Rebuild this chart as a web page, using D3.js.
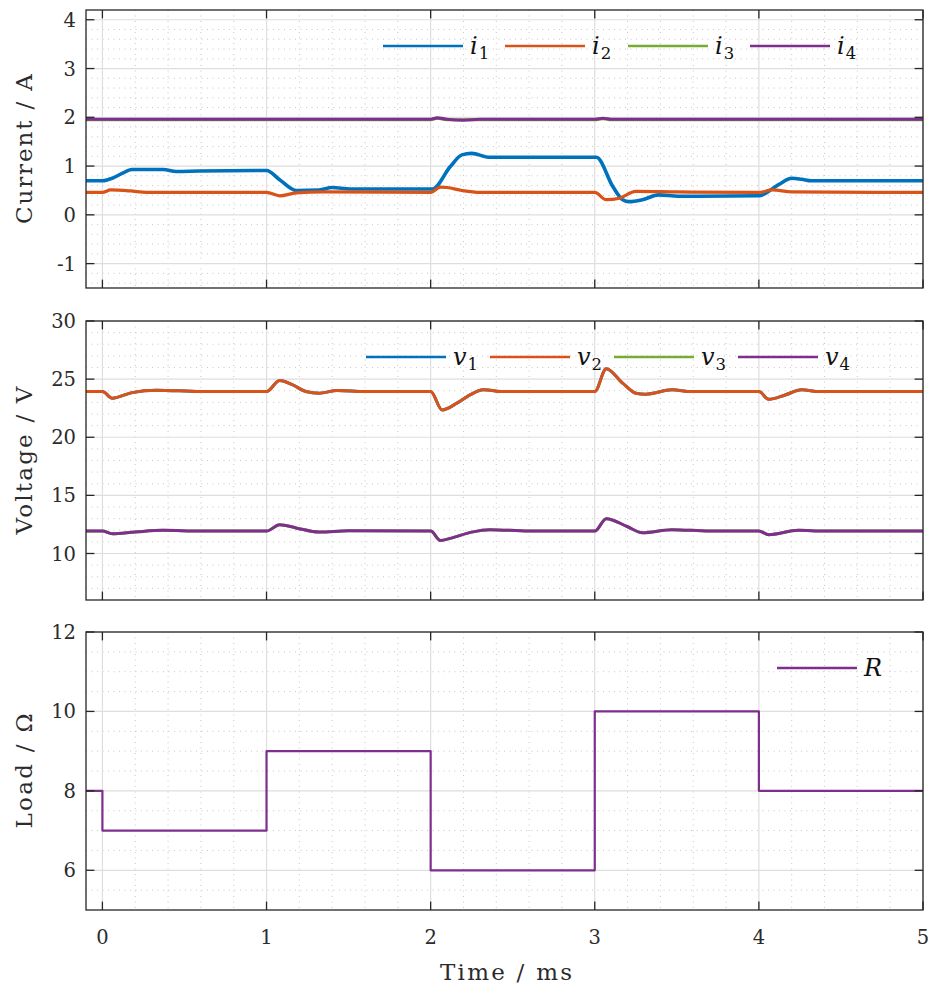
<!DOCTYPE html>
<html>
<head>
<meta charset="utf-8">
<script src="https://cdn.jsdelivr.net/npm/d3@7"></script>
<style>
  html, body { margin: 0; padding: 0; background: #fff; }
</style>
</head>
<body>
<svg id="chart" width="931" height="987"></svg>
<script>
// ---- axis ticks ----
const timeTicks = [0, 1, 2, 3, 4, 5];
const currentTicks = [-1, 0, 1, 2, 3, 4];
const voltageTicks = [10, 15, 20, 25, 30];
const loadTicks = [6, 8, 10, 12];

// ---- currents (A) ----
const i1Time = [-0.1, 0.00, 0.06, 0.12, 0.18, 0.37, 0.45, 0.59, 1.00, 1.08, 1.18, 1.32, 1.40, 1.51, 2.01, 2.12, 2.19, 2.25, 2.36, 3.01, 3.11, 3.17, 3.21, 3.29, 3.39, 3.51, 4.00, 4.12, 4.20, 4.26, 4.32, 5.00];
const i1Val  = [0.70, 0.70, 0.75, 0.85, 0.93, 0.93, 0.89, 0.90, 0.91, 0.72, 0.50, 0.51, 0.56, 0.53, 0.53, 0.99, 1.23, 1.26, 1.18, 1.18, 0.58, 0.31, 0.27, 0.31, 0.41, 0.38, 0.39, 0.62, 0.75, 0.73, 0.70, 0.70];

const i2Time = [-0.1, 0.00, 0.05, 0.17, 0.27, 1.00, 1.08, 1.18, 1.35, 2.00, 2.06, 2.10, 2.19, 2.30, 3.00, 3.07, 3.15, 3.25, 3.50, 4.00, 4.08, 4.20, 5.00];
const i2Val  = [0.46, 0.46, 0.51, 0.49, 0.46, 0.46, 0.39, 0.45, 0.47, 0.46, 0.57, 0.56, 0.50, 0.46, 0.46, 0.31, 0.34, 0.48, 0.47, 0.46, 0.51, 0.47, 0.46];

const i3Time = [-0.1, 2.00, 2.04, 2.10, 3.00, 3.05, 3.10, 5.00];
const i3Val  = [1.95, 1.95, 1.98, 1.95, 1.95, 1.97, 1.95, 1.95];

const i4Time = [-0.1, 2.00, 2.04, 2.10, 2.20, 2.30, 3.00, 3.05, 3.10, 5.00];
const i4Val  = [1.96, 1.96, 1.99, 1.96, 1.94, 1.96, 1.96, 1.98, 1.96, 1.96];

// ---- voltages (V) ----
const v1Time = [-0.1, 0.00, 0.06, 0.18, 0.33, 0.60, 1.00, 1.08, 1.16, 1.24, 1.32, 1.43, 1.60, 2.00, 2.07, 2.16, 2.24, 2.32, 2.45, 3.00, 3.07, 3.17, 3.25, 3.31, 3.47, 3.59, 4.00, 4.06, 4.16, 4.26, 4.37, 5.00];
const v1Val  = [23.93, 23.93, 23.36, 23.84, 24.05, 23.93, 23.93, 24.88, 24.50, 23.93, 23.79, 24.02, 23.93, 23.93, 22.35, 22.93, 23.64, 24.08, 23.93, 23.93, 25.90, 24.65, 23.79, 23.70, 24.08, 23.93, 23.93, 23.27, 23.64, 24.08, 23.93, 23.93];

const v2Time = [-0.1, 0.00, 0.06, 0.18, 0.33, 0.60, 1.00, 1.08, 1.16, 1.24, 1.32, 1.43, 1.60, 2.00, 2.07, 2.16, 2.24, 2.32, 2.45, 3.00, 3.07, 3.17, 3.25, 3.31, 3.47, 3.59, 4.00, 4.06, 4.16, 4.26, 4.37, 5.00];
const v2Val  = [23.93, 23.93, 23.36, 23.84, 24.05, 23.93, 23.93, 24.88, 24.50, 23.93, 23.79, 24.02, 23.93, 23.93, 22.35, 22.93, 23.64, 24.08, 23.93, 23.93, 25.90, 24.65, 23.79, 23.70, 24.08, 23.93, 23.93, 23.27, 23.64, 24.08, 23.93, 23.93];

const v3Time = [-0.1, 0.00, 0.06, 0.20, 0.37, 0.60, 1.00, 1.08, 1.18, 1.32, 1.50, 2.00, 2.06, 2.12, 2.25, 2.36, 2.60, 3.00, 3.07, 3.20, 3.29, 3.47, 3.70, 4.00, 4.06, 4.24, 4.40, 5.00];
const v3Val  = [11.93, 11.93, 11.70, 11.85, 11.99, 11.93, 11.93, 12.48, 12.20, 11.84, 11.95, 11.93, 11.12, 11.30, 11.84, 12.05, 11.93, 11.93, 13.00, 12.30, 11.79, 12.05, 11.93, 11.93, 11.62, 11.99, 11.93, 11.93];

const v4Time = [-0.1, 0.00, 0.06, 0.20, 0.37, 0.60, 1.00, 1.08, 1.18, 1.32, 1.50, 2.00, 2.06, 2.12, 2.25, 2.36, 2.60, 3.00, 3.07, 3.20, 3.29, 3.47, 3.70, 4.00, 4.06, 4.24, 4.40, 5.00];
const v4Val  = [11.93, 11.93, 11.70, 11.85, 11.99, 11.93, 11.93, 12.48, 12.20, 11.84, 11.95, 11.93, 11.12, 11.30, 11.84, 12.05, 11.93, 11.93, 13.00, 12.30, 11.79, 12.05, 11.93, 11.93, 11.62, 11.99, 11.93, 11.93];

// ---- load resistance (Ohm), step changes ----
const loadTime = [-0.1, 0, 1, 2, 3, 4, 5];
const loadVal  = [8, 7, 9, 6, 10, 8, 8];

// ---- styling ----
const serif = "DejaVu Serif";
const colBlue = "#0072BD", colOrange = "#D95319", colGreen = "#77AC30", colPurple = "#7E2F8E";
const axisCol = "#262626";
const textCol = "#2b2b2b";
const W = 931, H = 987;
const left = 86, right = 923;

const svg = d3.select("#chart");
svg.append("rect").attr("width", W).attr("height", H).attr("fill", "#fff");

const x = d3.scaleLinear().domain([-0.1, 5]).range([left, right]);
const xMinor = d3.range(0, 5.0001, 0.2).map(v => +v.toFixed(2)).filter(v => Math.abs(v - Math.round(v)) > 1e-6);

function zip(ts, vs) { return ts.map((t, k) => [t, vs[k]]); }

function panel(cfg) {
  const y = d3.scaleLinear().domain(cfg.yDomain).range([cfg.bottom, cfg.top]);
  const g = svg.append("g");
  const clipId = "clip" + cfg.id;
  svg.append("clipPath").attr("id", clipId)
    .append("rect").attr("x", left).attr("y", cfg.top).attr("width", right - left).attr("height", cfg.bottom - cfg.top);

  // minor grid (dotted)
  const grid = g.append("g");
  grid.selectAll(".mx").data(xMinor).join("line")
    .attr("x1", d => x(d)).attr("x2", d => x(d)).attr("y1", cfg.top).attr("y2", cfg.bottom)
    .attr("stroke", "#c2c2c2").attr("stroke-width", 0.9).attr("stroke-dasharray", "1,4.5");
  grid.selectAll(".my").data(cfg.yMinor).join("line")
    .attr("y1", d => y(d)).attr("y2", d => y(d)).attr("x1", left).attr("x2", right)
    .attr("stroke", "#c2c2c2").attr("stroke-width", 0.9).attr("stroke-dasharray", "1,4.5");
  // major grid
  grid.selectAll(".gx").data(timeTicks).join("line")
    .attr("x1", d => x(d)).attr("x2", d => x(d)).attr("y1", cfg.top).attr("y2", cfg.bottom)
    .attr("stroke", "#dedede").attr("stroke-width", 1.2);
  grid.selectAll(".gy").data(cfg.yTicks).join("line")
    .attr("y1", d => y(d)).attr("y2", d => y(d)).attr("x1", left).attr("x2", right)
    .attr("stroke", "#dedede").attr("stroke-width", 1.2);

  // data
  const traces = g.append("g").attr("clip-path", `url(#${clipId})`);
  cfg.series.forEach(s => {
    const line = d3.line().x(d => x(d[0])).y(d => y(d[1]))
      .curve(s.step ? d3.curveStepAfter : d3.curveMonotoneX);
    traces.append("path").datum(zip(s.t, s.v))
      .attr("d", line).attr("fill", "none").attr("stroke", s.color)
      .attr("stroke-width", s.width).attr("stroke-linejoin", "round");
  });

  // frame and inward ticks on all sides
  const ax = g.append("g").attr("stroke", axisCol).attr("stroke-width", 1.3);
  ax.append("rect").attr("x", left).attr("y", cfg.top).attr("width", right - left).attr("height", cfg.bottom - cfg.top)
    .attr("fill", "none");
  const tl = 8.4;
  timeTicks.forEach(t => {
    ax.append("line").attr("x1", x(t)).attr("x2", x(t)).attr("y1", cfg.bottom).attr("y2", cfg.bottom - tl);
    ax.append("line").attr("x1", x(t)).attr("x2", x(t)).attr("y1", cfg.top).attr("y2", cfg.top + tl);
  });
  cfg.yTicks.forEach(v => {
    ax.append("line").attr("y1", y(v)).attr("y2", y(v)).attr("x1", left).attr("x2", left + tl);
    ax.append("line").attr("y1", y(v)).attr("y2", y(v)).attr("x1", right).attr("x2", right - tl);
  });

  // y tick labels
  g.append("g").selectAll("text").data(cfg.yTicks).join("text")
    .attr("x", 76).attr("y", d => y(d) + 7).attr("text-anchor", "end")
    .style("font-family", serif).attr("font-size", 19.5).attr("fill", textCol)
    .text(d => d < 0 ? "-" + Math.abs(d) : String(d));

  // y label
  g.append("text")
    .attr("transform", `translate(32,${(cfg.top + cfg.bottom) / 2}) rotate(-90)`)
    .attr("text-anchor", "middle").style("font-family", serif).attr("font-size", 23).attr("fill", textCol)
    .attr("textLength", cfg.labelLen).attr("lengthAdjust", "spacing")
    .text(cfg.label);

  // legend
  const lg = g.append("g");
  cfg.legend.forEach(item => {
    lg.append("line").attr("x1", item.x0).attr("x2", item.x0 + 80)
      .attr("y1", cfg.legendY).attr("y2", cfg.legendY)
      .attr("stroke", item.color).attr("stroke-width", 2.6);
    const tx = lg.append("text").attr("x", item.x0 + 87).attr("y", cfg.legendY + 8)
      .style("font-family", serif).attr("font-size", 24).attr("fill", "#111");
    tx.append("tspan").attr("font-style", "italic").text(item.sym);
    if (item.sub) {
      tx.append("tspan").attr("font-size", 16.5).attr("dy", 5).attr("dx", 1).text(item.sub);
    }
  });
  return y;
}

// Current panel
panel({
  id: 1, top: 10, bottom: 288, yDomain: [-1.5, 4.2], yTicks: currentTicks,
  yMinor: d3.range(-1.4, 4.1, 0.2).map(v => +v.toFixed(2)).filter(v => Math.abs(v - Math.round(v)) > 1e-6),
  label: "Current / A", labelLen: 150,
  legendY: 46,
  legend: [
    { x0: 383, color: colBlue, sym: "i", sub: "1" },
    { x0: 505, color: colOrange, sym: "i", sub: "2" },
    { x0: 628, color: colGreen, sym: "i", sub: "3" },
    { x0: 750, color: colPurple, sym: "i", sub: "4" }
  ],
  series: [
    { t: i1Time, v: i1Val, color: colBlue, width: 3.6 },
    { t: i2Time, v: i2Val, color: colOrange, width: 3.2 },
    { t: i3Time, v: i3Val, color: colGreen, width: 3.2 },
    { t: i4Time, v: i4Val, color: colPurple, width: 3.2 }
  ]
});

// Voltage panel
panel({
  id: 2, top: 321, bottom: 600, yDomain: [6, 30], yTicks: voltageTicks,
  yMinor: d3.range(7, 30, 1).filter(v => v % 5 !== 0),
  label: "Voltage / V", labelLen: 148,
  legendY: 357,
  legend: [
    { x0: 366, color: colBlue, sym: "v", sub: "1" },
    { x0: 490, color: colOrange, sym: "v", sub: "2" },
    { x0: 614, color: colGreen, sym: "v", sub: "3" },
    { x0: 738, color: colPurple, sym: "v", sub: "4" }
  ],
  series: [
    { t: v1Time, v: v1Val, color: colBlue, width: 3 },
    { t: v2Time, v: v2Val, color: colOrange, width: 3 },
    { t: v3Time, v: v3Val, color: colGreen, width: 3 },
    { t: v4Time, v: v4Val, color: colPurple, width: 3 }
  ]
});

// Load panel
panel({
  id: 3, top: 632, bottom: 910, yDomain: [5, 12], yTicks: loadTicks,
  yMinor: d3.range(5.5, 12, 0.5).filter(v => !loadTicks.includes(v)),
  label: "Load / \u03A9", labelLen: 115,
  legendY: 668,
  legend: [
    { x0: 777, color: colPurple, sym: "R" }
  ],
  series: [
    { t: loadTime, v: loadVal, color: colPurple, width: 2.2, step: true }
  ]
});

// x tick labels and title (bottom panel only)
svg.append("g").selectAll("text").data(timeTicks).join("text")
  .attr("x", d => x(d)).attr("y", 944).attr("text-anchor", "middle")
  .style("font-family", serif).attr("font-size", 19.5).attr("fill", textCol).text(d => String(d));

svg.append("text").attr("x", 506).attr("y", 980).attr("text-anchor", "middle")
  .style("font-family", serif).attr("font-size", 23).attr("fill", textCol)
  .attr("textLength", 132).attr("lengthAdjust", "spacing")
  .text("Time / ms");
</script>
</body>
</html>
